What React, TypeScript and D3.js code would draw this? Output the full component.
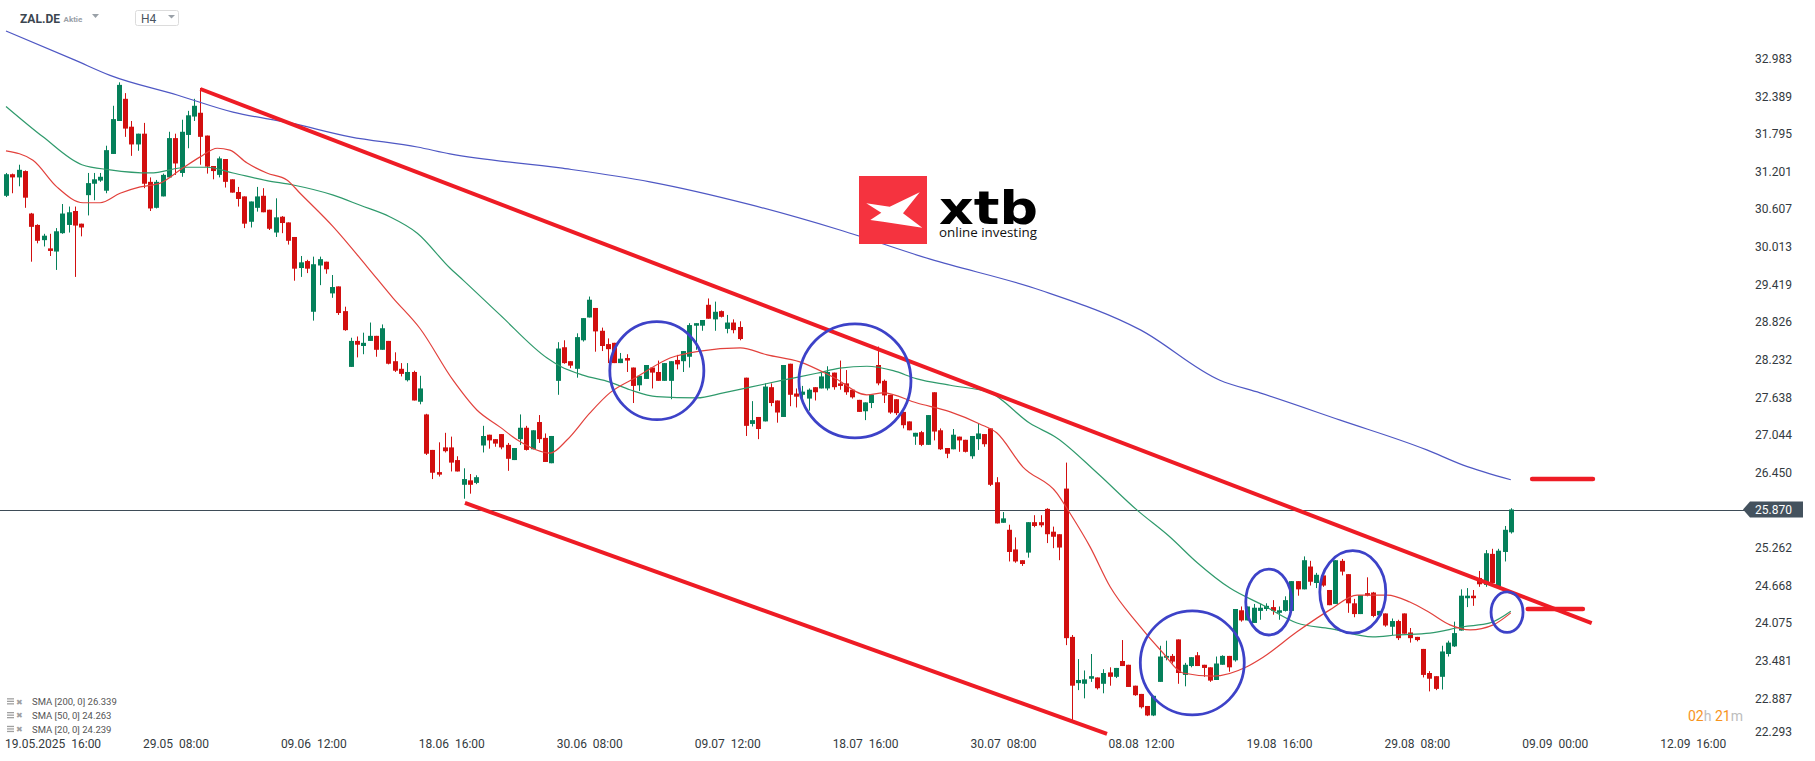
import React from 'react';
import * as d3 from 'd3';

// ---------- DATA ----------
const opens = [30.82,31.16,31.11,31.21,30.54,30.36,30.12,29.99,29.94,30.23,30.36,30.58,30.38,30.83,31.01,31.06,30.90,31.48,32.00,32.35,31.91,31.63,31.80,31.04,30.63,30.81,31.11,31.73,31.18,31.78,32.07,32.13,31.77,31.29,31.15,31.40,31.08,30.88,30.81,30.41,30.63,30.82,30.60,30.24,30.49,30.40,30.17,29.68,29.79,28.99,29.72,29.78,29.28,29.39,29.00,28.12,28.53,28.45,28.53,28.61,28.39,28.53,28.21,28.09,27.91,28.04,27.57,27.37,26.81,26.46,26.85,26.85,26.65,26.26,26.33,26.29,26.88,27.05,26.98,27.06,26.89,26.65,26.98,27.16,26.82,27.25,27.00,26.60,27.90,28.43,28.21,28.09,28.54,28.90,29.05,28.69,28.48,28.50,28.18,28.26,28.11,27.83,27.93,28.11,28.04,27.90,27.90,28.23,28.21,28.28,28.77,28.77,29.10,28.87,29.00,28.72,28.82,28.75,27.95,27.22,27.33,27.26,27.80,27.59,27.33,28.17,27.70,27.68,27.62,27.80,27.78,27.78,28.03,27.86,27.86,27.76,27.60,27.42,27.55,28.15,27.90,27.68,27.61,27.41,27.26,27.02,27.09,26.89,27.72,27.12,26.84,26.82,27.02,26.97,26.71,26.98,27.06,27.15,26.30,25.66,25.55,25.24,25.07,25.19,25.67,25.67,25.88,25.52,25.48,26.20,23.86,23.13,23.12,23.20,23.22,23.12,23.30,23.23,23.48,23.42,23.09,22.96,22.77,22.62,23.15,23.53,23.56,23.82,23.26,23.40,23.57,23.42,23.38,23.18,23.42,23.56,23.49,24.28,24.12,24.08,24.27,24.30,24.33,24.24,24.27,24.27,24.74,24.61,24.97,24.71,24.83,24.60,24.38,25.06,24.85,24.39,24.22,24.55,24.56,24.20,24.23,24.02,24.11,24.23,23.93,23.86,23.67,23.29,23.24,23.23,23.59,23.71,23.96,24.47,24.51,24.79,24.68,25.17,24.65,25.20,25.51];
const highs = [31.18,31.17,31.31,31.22,30.55,30.37,30.22,30.22,30.31,30.69,30.65,30.65,30.38,31.18,31.18,31.18,31.61,32.24,32.61,32.44,32.00,31.80,31.97,31.11,31.07,31.17,31.83,31.80,32.02,32.16,32.35,32.52,31.77,31.29,31.44,31.40,31.08,30.96,30.81,30.73,30.96,30.94,30.60,30.78,30.50,30.40,30.17,29.87,29.81,29.86,29.86,29.78,29.57,29.39,29.07,28.58,28.60,28.66,28.82,28.61,28.79,28.53,28.35,28.18,28.18,28.06,27.98,27.38,26.81,26.93,27.08,27.02,26.71,26.52,26.43,26.41,27.19,27.05,26.98,27.06,26.92,26.84,27.37,27.19,27.12,27.36,27.07,27.03,28.51,28.54,28.21,28.65,28.89,29.23,29.05,28.74,28.57,28.50,28.34,28.32,28.11,27.98,28.15,28.11,28.22,28.18,28.21,28.31,28.37,28.81,28.81,28.86,29.20,29.15,29.01,28.94,28.87,28.84,27.95,27.58,27.33,27.86,27.86,27.59,28.15,28.17,27.78,27.82,27.78,27.80,28.03,28.13,28.03,28.22,28.07,27.76,27.60,27.56,27.68,28.44,27.92,27.68,27.61,27.41,27.26,27.08,27.11,27.36,27.72,27.15,26.84,27.14,27.02,26.97,27.03,27.22,27.06,27.15,26.38,25.83,25.63,25.43,25.07,25.67,25.78,25.78,25.89,25.60,25.48,26.61,23.89,23.51,23.33,23.59,23.22,23.35,23.38,23.37,23.81,23.42,23.09,22.96,22.77,22.93,23.72,23.80,23.59,23.82,23.45,23.54,23.62,23.42,23.38,23.55,23.57,23.56,24.30,24.34,24.34,24.38,24.38,24.39,24.44,24.34,24.50,24.74,24.74,25.13,25.06,24.87,24.83,24.60,25.07,25.09,24.85,24.46,24.52,24.80,24.57,24.27,24.23,24.15,24.13,24.23,24.00,23.86,23.67,23.32,23.24,23.72,23.80,24.10,24.61,24.63,24.60,24.90,25.23,25.25,25.25,25.61,25.89];
const lows = [30.80,30.86,30.97,30.63,29.78,30.07,30.02,29.87,29.65,30.22,30.24,29.54,30.18,30.51,30.75,31.04,30.86,31.48,32.00,31.75,31.45,31.53,30.94,30.58,30.62,30.81,31.11,31.15,31.12,31.57,32.00,31.31,31.17,31.08,31.11,30.95,30.87,30.65,30.31,30.32,30.57,30.56,30.28,30.17,30.23,30.05,29.48,29.54,29.60,28.85,29.41,29.59,29.21,28.94,28.69,28.12,28.27,28.32,28.53,28.28,28.39,28.16,28.04,27.97,27.89,27.59,27.53,26.73,26.35,26.39,26.77,26.47,26.47,26.04,26.12,26.27,26.77,26.83,26.86,26.82,26.48,26.65,26.89,26.80,26.82,26.92,26.62,26.60,27.68,28.17,28.10,27.95,28.52,28.90,28.36,28.37,28.18,28.18,28.18,28.04,27.55,27.74,27.93,27.78,27.90,27.90,27.61,28.08,28.04,28.11,28.39,28.69,28.88,28.69,28.90,28.65,28.65,28.54,27.03,27.18,26.98,27.26,27.50,27.24,27.33,27.50,27.48,27.58,27.43,27.59,27.78,27.75,27.76,27.76,27.68,27.62,27.41,27.28,27.47,27.83,27.55,27.38,27.36,27.15,27.12,26.89,26.87,26.89,26.96,26.81,26.68,26.82,26.78,26.77,26.67,26.81,26.86,26.24,25.65,25.66,25.05,25.03,24.98,25.11,25.59,25.59,25.34,25.26,25.07,23.73,22.52,23.02,22.89,23.15,23.03,22.97,23.09,23.21,23.40,23.07,22.93,22.73,22.61,22.61,23.15,23.49,23.44,23.12,23.08,23.38,23.40,23.23,23.15,23.18,23.42,23.31,23.47,24.10,24.12,24.08,24.13,24.27,24.21,24.13,24.26,24.27,24.51,24.61,24.67,24.63,24.65,24.36,24.38,24.83,24.24,24.17,24.22,24.50,24.17,24.19,24.02,23.89,23.81,23.91,23.77,23.79,23.22,23.00,23.02,23.03,23.55,23.70,23.96,24.33,24.35,24.65,24.65,24.71,24.64,25.05,25.49];
const closes = [31.16,31.11,31.23,30.79,30.33,30.11,30.19,29.95,30.26,30.54,30.56,30.35,30.32,31.02,31.08,31.12,31.54,32.03,32.57,31.88,31.63,31.80,31.01,30.62,31.04,31.15,31.73,31.33,31.83,32.09,32.24,31.75,31.28,31.21,31.41,31.04,30.87,30.77,30.38,30.73,30.81,30.56,30.30,30.48,30.39,30.11,29.67,29.77,29.67,29.74,29.82,29.66,29.38,28.97,28.70,28.53,28.47,28.50,28.61,28.39,28.73,28.17,28.06,28.01,28.04,27.59,27.78,26.75,26.45,26.42,26.79,26.61,26.47,26.35,26.26,26.38,27.03,26.96,26.91,26.85,26.67,26.84,27.16,26.81,27.12,26.98,26.62,27.03,28.41,28.18,28.14,28.59,28.89,29.18,28.68,28.45,28.40,28.18,28.25,28.22,27.82,27.98,28.15,28.03,27.90,28.18,28.21,28.16,28.37,28.78,28.81,28.86,28.88,28.99,28.91,28.82,28.70,28.56,27.19,27.28,27.14,27.81,27.55,27.40,28.15,27.68,27.65,27.73,27.76,27.72,27.97,28.04,27.80,27.82,27.72,27.64,27.41,27.56,27.68,27.86,27.67,27.40,27.39,27.20,27.12,27.08,26.89,27.36,27.10,26.82,26.75,27.05,26.96,26.78,27.03,27.07,26.90,26.26,25.65,25.73,25.20,25.05,25.01,25.67,25.61,25.62,25.48,25.44,25.27,23.84,23.09,23.18,23.19,23.24,23.05,23.29,23.23,23.37,23.40,23.07,22.94,22.75,22.62,22.93,23.55,23.56,23.47,23.29,23.42,23.54,23.40,23.37,23.17,23.44,23.56,23.38,24.30,24.12,24.34,24.32,24.32,24.35,24.27,24.28,24.44,24.74,24.61,25.07,24.73,24.84,24.67,24.36,25.07,24.89,24.39,24.22,24.52,24.51,24.19,24.27,24.04,24.11,23.84,23.91,23.84,23.81,23.26,23.20,23.04,23.63,23.77,23.92,24.51,24.51,24.47,24.69,25.18,24.71,25.22,25.55,25.87];

const sma200Idx = [0, 11, 16.6, 27.3, 36.2, 45.3, 54.9, 65.6, 70.8, 88.4, 102.7, 118.7, 133, 147.4, 165, 181, 193.6, 200, 212.8, 226.6, 232.4, 240];
const sma200Val = [33.42, 32.96, 32.72, 32.41, 32.14, 31.97, 31.75, 31.59, 31.48, 31.26, 31.04, 30.68, 30.28, 29.82, 29.33, 28.70, 27.91, 27.71, 27.28, 26.81, 26.57, 26.339];

const sma50Idx = [0, 5.9, 12.1, 16.6, 23, 28.9, 32, 36.2, 41.6, 45.8, 52.2, 56.5, 61.2, 65.6, 70.8, 72.9, 78.8, 86.3, 88.4, 92, 96.3, 99.5, 103.8, 110.2, 114.4, 118.7, 123.9, 129.3, 133, 137.3, 141.5, 145.3, 150.6, 157, 163.3, 167.6, 174, 180.4, 185.6, 190, 195.2, 200.5, 205.9, 211.2, 218, 221.8, 227.1, 232.4, 236.7, 240];
const sma50Val = [32.23, 31.75, 31.31, 31.23, 31.18, 31.27, 31.27, 31.18, 31.06, 30.99, 30.83, 30.67, 30.49, 30.23, 29.68, 29.49, 28.94, 28.26, 28.13, 27.99, 27.88, 27.76, 27.65, 27.63, 27.71, 27.80, 27.91, 28.02, 28.10, 28.13, 28.06, 27.93, 27.83, 27.71, 27.23, 27.00, 26.45, 25.86, 25.44, 25.03, 24.63, 24.36, 24.08, 23.99, 23.86, 23.89, 23.92, 24.02, 24.08, 24.263];

const sma20Idx = [0, 4.3, 8.1, 12.3, 15, 18.2, 21.4, 24.6, 27.8, 30.9, 33.7, 35.7, 38.4, 41.6, 44.8, 46.9, 52.2, 57.6, 61.7, 66, 71.3, 75.1, 78.8, 81.5, 86.8, 89.5, 93.1, 96.3, 100.6, 105.9, 110.7, 117.1, 121.4, 126.6, 131.9, 137.3, 139.9, 145.3, 150.6, 155.3, 158, 162.2, 167.6, 169.7, 172.9, 176.1, 180.4, 184.5, 187.7, 192.5, 197.9, 200.5, 205.9, 211.2, 215.5, 220.3, 223.9, 227.1, 230.3, 233.5, 237.2, 240];
const sma20Val = [31.53, 31.38, 30.96, 30.71, 30.71, 30.86, 30.96, 31.02, 31.23, 31.43, 31.57, 31.54, 31.34, 31.18, 31.07, 30.86, 30.33, 29.70, 29.21, 28.73, 27.91, 27.44, 27.17, 26.97, 26.76, 26.97, 27.39, 27.71, 27.96, 28.26, 28.37, 28.42, 28.31, 28.20, 27.96, 27.68, 27.71, 27.55, 27.41, 27.22, 27.08, 26.54, 26.13, 25.81, 25.28, 24.65, 24.08, 23.61, 23.29, 23.24, 23.39, 23.54, 23.94, 24.29, 24.52, 24.52, 24.41, 24.24, 24.05, 23.97, 24.05, 24.239];

const tickIdx = [0, 22, 44, 66, 88, 110, 132, 154, 176, 198, 220, 242, 264];
const tickLabels = ['19.05.2025  16:00', '29.05  08:00', '09.06  12:00', '18.06  16:00', '30.06  08:00', '09.07  12:00', '18.07  16:00', '30.07  08:00', '08.08  12:00', '19.08  16:00', '29.08  08:00', '09.09  00:00', '12.09  16:00'];
const priceTicks = [32.983, 32.389, 31.795, 31.201, 30.607, 30.013, 29.419, 28.826, 28.232, 27.638, 27.044, 26.450, 25.262, 24.668, 24.075, 23.481, 22.887, 22.293];
const lastPrice = 25.870;

// annotations (in data units: candle index, price)
const trendUpper = [[31, 32.505], [252.9, 24.079]];
const trendLower = [[73.2, 25.973], [175.6, 22.328]];
const levelSegments = [[243.4, 253.1, 26.35], [242.7, 251.5, 24.30]];
const circleCx = [103.8, 135.4, 189.2, 201.4, 214.8, 239.4];
const circleCy = [28.06, 27.90, 23.45, 24.41, 24.57, 24.25];
const circleRx = [7.5, 8.93, 8.29, 3.67, 5.26, 2.55];
const circleRy = [0.773, 0.90, 0.82, 0.52, 0.65, 0.32];

const legendNames = ['SMA [200,  0] 26.339', 'SMA [50,  0] 24.263', 'SMA [20,  0] 24.239'];

const GREEN = '#05805a';
const RED = '#d20f0f';
const FONT = 'Roboto, "Noto Sans", sans-serif';

export default function App() {
  const x = d3.scaleLinear().domain([0, 264]).range([6, 6 + 264 * 6.27]);
  const y = d3.scaleLinear().domain([22.293, 32.983]).range([736.2, 58.7]);

  const mkLine = (idx: number[], val: number[]) =>
    d3.line<number>().x((_, k) => x(idx[k])).y((d) => y(d)).curve(d3.curveMonotoneX)(val) || '';

  const candles = opens.map((o, i) => {
    const c = closes[i];
    const up = c >= o;
    const col = up ? GREEN : RED;
    const cx = Math.round(x(i));
    const top = y(Math.max(o, c));
    const bot = y(Math.min(o, c));
    return (
      <g key={i}>
        <line x1={cx + 0.5} x2={cx + 0.5} y1={y(highs[i])} y2={y(lows[i])} stroke={col} strokeWidth={1} />
        <rect x={cx - 2} y={top} width={5} height={Math.max(1, bot - top)} fill={col} />
      </g>
    );
  });

  const yLast = y(lastPrice);

  // logo
  const lx = 859, ly = 176;
  const xShape = [[7.3, 27.3], [30.7, 30.7], [60.7, 16.3], [44, 37.3], [63.3, 51.7], [24, 45.7], [11.3, 44], [22.3, 36.7]]
    .map((p) => `${lx + p[0]},${ly + p[1]}`).join(' ');

  return (
    <svg width={1815} height={761} style={{ position: 'absolute', left: 0, top: 0, background: '#fff' }} fontFamily={FONT}>
      <rect x={0} y={0} width={1815} height={761} fill="#fff" />
      {/* header */}
      <text x={20} y={22.5} fontSize={12} fontWeight={700} fill="#3b4650">ZAL.DE</text>
      <text x={63.5} y={22} fontSize={8} fontWeight={700} fill="#9aa1a8">Aktie</text>
      <polygon points="92,14 99,14 95.5,18" fill="#9aa1a8" />
      <rect x={135.5} y={10.5} width={43} height={15} rx={2} fill="#fff" stroke="#dcdcdc" />
      <text x={141} y={22.5} fontSize={12} fill="#4a5560">H4</text>
      <polygon points="168,15 175,15 171.5,18.5" fill="#9aa1a8" />

      {/* current price line */}
      <line x1={0} x2={1745} y1={Math.round(yLast) + 0.5} y2={Math.round(yLast) + 0.5} stroke="#3e4c57" strokeWidth={1} />

      {/* candles */}
      {candles}

      {/* SMAs */}
      <path d={mkLine(sma200Idx, sma200Val)} fill="none" stroke="#4f58c4" strokeWidth={1.2} />
      <path d={mkLine(sma50Idx, sma50Val)} fill="none" stroke="#2f9a6c" strokeWidth={1.2} />
      <path d={mkLine(sma20Idx, sma20Val)} fill="none" stroke="#e2413c" strokeWidth={1.2} />

      {/* logo */}
      <rect x={lx} y={ly} width={68} height={68} fill="#f5333f" />
      <polygon points={xShape} fill="#fff" />
      <text x={939} y={224} fontSize={46} fontWeight={900} fill="#000" textLength={99} lengthAdjust="spacingAndGlyphs" fontFamily='"DejaVu Sans", sans-serif'>xtb</text>
      <text x={939} y={237} fontSize={12.5} fill="#111" textLength={98} lengthAdjust="spacingAndGlyphs" fontFamily='"Open Sans", sans-serif'>online investing</text>

      {/* trendlines */}
      {[trendUpper, trendLower].map((t, k) => (
        <line key={k} x1={x(t[0][0])} y1={y(t[0][1])} x2={x(t[1][0])} y2={y(t[1][1])} stroke="#ee1c25" strokeWidth={4} />
      ))}
      {levelSegments.map((s, k) => (
        <line key={k} x1={x(s[0])} x2={x(s[1])} y1={y(s[2])} y2={y(s[2])} stroke="#ee1c25" strokeWidth={4.5} strokeLinecap="round" />
      ))}
      {circleCx.map((c, k) => (
        <ellipse key={k} cx={x(c)} cy={y(circleCy[k])} rx={x(c + circleRx[k]) - x(c)} ry={y(circleCy[k] - circleRy[k]) - y(circleCy[k])} fill="none" stroke="#3d42c8" strokeWidth={2.8} />
      ))}

      {/* right axis labels */}
      {priceTicks.map((v, k) => (
        <text key={k} x={1755} y={Math.min(y(v), 731.7)} dy="0.35em" fontSize={12} fill="#333a40">{v.toFixed(3)}</text>
      ))}
      <polygon points={`1743,${yLast} 1750,${yLast - 8} 1803,${yLast - 8} 1803,${yLast + 8} 1750,${yLast + 8}`} fill="#44525e" />
      <text x={1755} y={yLast} dy="0.35em" fontSize={12} fill="#fff">{lastPrice.toFixed(3)}</text>

      {/* countdown */}
      <text x={1688} y={716} dy="0.35em" fontSize={14}>
        <tspan fill="#f7941d">02</tspan><tspan fill="#bdbdbd">h </tspan><tspan fill="#f7941d">21</tspan><tspan fill="#bdbdbd">m</tspan>
      </text>

      {/* x axis labels */}
      {tickIdx.map((t, k) => (
        <text key={k} x={x(t) - 1} y={744} dy="0.35em" fontSize={12} fill="#333a40" style={{ whiteSpace: 'pre' }}>{tickLabels[k]}</text>
      ))}

      {/* legend */}
      {legendNames.map((n, k) => (
        <g key={k} transform={`translate(0, ${701.7 + k * 13.8})`}>
          <rect x={7} y={-3.5} width={7} height={1.3} fill="#a0a0a0" />
          <rect x={7} y={-1} width={7} height={1.3} fill="#a0a0a0" />
          <rect x={7} y={1.5} width={7} height={1.3} fill="#a0a0a0" />
          <text x={15.5} y={0} dy="0.35em" fontSize={8} fill="#a0a0a0">✖</text>
          <text x={32} y={0} dy="0.35em" fontSize={9.5} fill="#555">{n}</text>
        </g>
      ))}
    </svg>
  );
}
